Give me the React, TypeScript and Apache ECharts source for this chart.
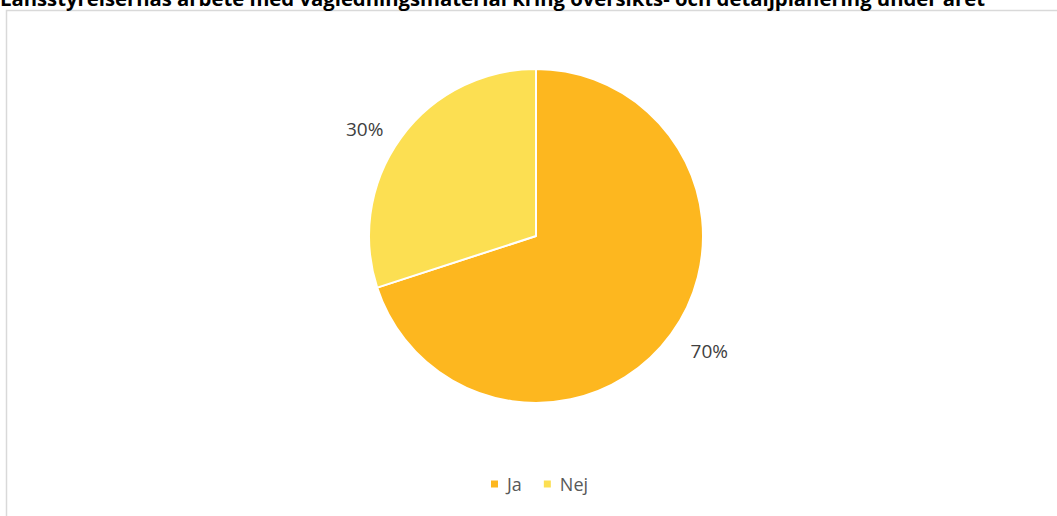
import React, { useEffect, useRef } from "react";
import * as echarts from "echarts";

const titleText =
  "Länsstyrelsernas arbete med vägledningsmaterial kring översikts- och detaljplanering under året";
const categories = ["Ja", "Nej"];
const values = [70, 30];
const colors = ["#FDB71F", "#FCDF52"];
const labelOffsets = [
  [1, -10],
  [1, 18],
];

export default function App() {
  const ref = useRef<HTMLDivElement>(null);
  useEffect(() => {
    if (!ref.current) return;
    const chart = echarts.init(ref.current, null, { renderer: "svg" });
    const data = categories.map((c, i) => ({
      name: c,
      value: values[i],
      itemStyle: { color: colors[i] },
    }));
    chart.setOption({
      animation: false,
      backgroundColor: "#ffffff",
      graphic: [
        {
          type: "rect",
          shape: { x: 6.5, y: 10.5, width: 1100, height: 600 },
          style: { fill: "none", stroke: "#D9D9D9", lineWidth: 1.5 },
          silent: true,
          z: 0,
        },
        {
          type: "text",
          x: 0,
          y: -2,
          style: {
            text: titleText,
            font: "bold 20.3px 'Open Sans'",
            fill: "#000000",
            textVerticalAlign: "middle",
            textAlign: "left",
          },
          z: 10,
        },
      ],
      legend: {
        data: categories,
        left: 484,
        top: 470,
        icon: "rect",
        itemWidth: 9,
        itemHeight: 9,
        itemGap: 20,
        textStyle: {
          fontFamily: "Open Sans",
          fontSize: 18,
          color: "#595959",
          padding: [0, 0, 0, 3],
        },
      },
      series: [
        {
          type: "pie",
          center: [536, 236],
          radius: [0, 167],
          startAngle: 90,
          clockwise: true,
          data,
          label: { show: false },
          labelLine: { show: false },
          itemStyle: { borderColor: "#ffffff", borderWidth: 2 },
          silent: true,
        },
        {
          type: "pie",
          center: [536, 236],
          radius: [167, 253],
          startAngle: 90,
          clockwise: true,
          data: categories.map((c, i) => ({
            name: c,
            value: values[i],
            label: { offset: labelOffsets[i] },
          })),
          itemStyle: { color: "rgba(0,0,0,0)" },
          label: {
            show: true,
            position: "inside",
            formatter: (p: any) => `${p.value}%`,
            fontFamily: "Open Sans",
            fontSize: 19,
            color: "#404040",
          },
          labelLine: { show: false },
          silent: true,
        },
      ],
    });
    return () => chart.dispose();
  }, []);
  return (
    <div
      ref={ref}
      style={{ position: "absolute", left: 0, top: 0, width: 1057, height: 516 }}
    />
  );
}
